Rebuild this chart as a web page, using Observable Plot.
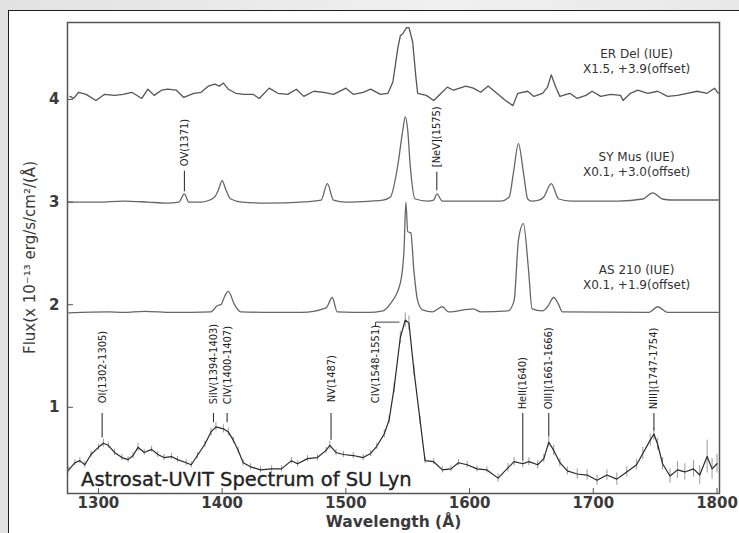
<!DOCTYPE html>
<html><head><meta charset="utf-8">
<script src="https://cdn.jsdelivr.net/npm/d3@7"></script>
<script src="https://cdn.jsdelivr.net/npm/@observablehq/plot@0.6"></script>
<style>
html,body{margin:0;padding:0;width:739px;height:533px;overflow:hidden;background:linear-gradient(90deg,#e2e2e2,#f0f0f0 60%,#e8e8e8);}
#panel{position:absolute;left:8px;top:10px;width:800px;height:600px;background:#fff;border-left:1.6px solid #1e1e1e;border-top:1.6px solid #1e1e1e;}
#chart{position:absolute;left:0;top:0;}
</style></head><body><div id="panel"></div><div id="chart"></div>
<script>
const xTicks = [1300, 1400, 1500, 1600, 1700, 1800];
const yTicks = [1, 2, 3, 4];

// ER Del (IUE) x1.5 +3.9
const erDelW = [1277,1280,1284,1290,1298,1305,1313,1320,1327,1335,1340,1345,1351,1356,1363,1369,1377,1383,1389,1394,1398,1401,1405,1411,1418,1425,1430,1438,1445,1453,1460,1466,1474,1482,1490,1500,1506,1514,1520,1528,1534,1538,1542,1544,1546,1549,1551,1554,1556.5,1558,1565,1571,1577,1582,1587,1597,1603,1609,1615,1622,1629,1635,1639,1647,1652,1659,1663,1666,1670,1673,1681,1687,1694,1699,1706,1714,1722,1724,1730,1736,1744,1752,1760,1768,1776,1784,1792,1798,1801];
const erDelF = [4.03,4.01,4.07,4.05,3.99,4.05,4.04,4.05,4.07,4.01,4.10,4.04,4.09,4.10,4.09,4.02,4.06,4.07,4.13,4.15,4.13,4.16,4.10,4.06,4.05,4.05,4.01,4.11,4.06,4.05,4.10,4.03,4.08,4.07,4.05,4.11,4.05,4.07,4.10,4.05,4.06,4.17,4.50,4.62,4.64,4.70,4.70,4.56,4.23,4.06,4.04,3.99,4.06,4.12,4.09,4.13,4.11,4.07,4.13,4.06,3.99,3.94,4.06,4.08,4.03,4.06,4.12,4.24,4.11,4.03,4.06,4.01,4.04,4.08,4.03,4.05,4.04,3.99,4.06,4.09,4.06,4.08,4.03,4.04,4.06,4.08,4.06,4.11,4.06];

// SY Mus (IUE) x0.1 +3.0
const syMusW = [1276,1300,1320,1340,1355,1365,1369.5,1373,1383,1390,1394,1397,1400,1403,1407,1416,1437,1464,1480,1485,1490,1500,1520,1530,1536,1542,1546,1548,1550,1552,1556,1566,1571,1573.5,1578,1600,1625,1632,1635.5,1639.5,1643.5,1647,1650,1656,1660,1666,1672,1682,1720,1740,1748,1756,1763,1801];
const syMusF = [3.00,3.00,3.01,3.00,2.99,3.00,3.08,3.00,3.00,3.02,3.05,3.12,3.21,3.12,3.03,3.00,2.99,3.00,3.02,3.18,3.02,3.00,3.01,3.02,3.05,3.36,3.70,3.83,3.70,3.36,3.03,3.01,3.02,3.08,3.01,3.01,3.01,3.05,3.29,3.57,3.29,3.03,3.01,3.02,3.05,3.18,3.03,3.01,3.01,3.03,3.09,3.03,3.02,3.02];

// AS 210 (IUE) x0.1 +1.9
const as210W = [1276,1308,1320,1337,1360,1391,1396,1399,1402,1405,1410,1415,1440,1464,1484,1489,1493,1518,1530,1536,1544,1547,1548.5,1550,1552.5,1555,1558,1562,1570,1578,1583,1603,1609,1631,1636,1639.5,1643.5,1647.5,1650.5,1659,1663,1668,1672,1675,1745,1752,1760,1801];
const as210F = [1.92,1.93,1.925,1.935,1.925,1.93,1.99,2.00,2.08,2.13,2.00,1.93,1.925,1.925,1.97,2.07,1.93,1.925,1.94,2.01,2.21,2.53,3.00,2.71,2.70,2.33,2.04,1.95,1.93,1.98,1.93,1.96,1.93,1.94,2.04,2.63,2.79,2.36,1.96,1.94,1.98,2.07,2.00,1.93,1.925,1.98,1.925,1.925];

// Astrosat-UVIT SU Lyn
const suLynW = [1276,1281,1285,1289,1294,1300,1304,1308,1313,1319,1324,1328,1332,1337,1343,1348,1353,1359,1364,1371,1375,1380,1386,1391,1395,1401,1405,1409,1413,1417,1423,1431,1440,1448,1456,1461,1469,1477,1484,1487,1492,1498,1506,1514,1520,1525,1531,1535,1539,1544,1548,1551,1555,1560,1564,1571,1578,1585,1591,1598,1606,1614,1623,1631,1636,1643,1648,1655,1660,1664,1668,1673,1679,1687,1695,1703,1711,1719,1727,1735,1740,1746,1749,1752,1756,1762,1768,1774,1781,1786,1792,1796,1800];
const suLynF = [0.39,0.46,0.48,0.44,0.54,0.61,0.65,0.63,0.56,0.51,0.49,0.53,0.61,0.56,0.59,0.54,0.51,0.52,0.49,0.46,0.44,0.53,0.64,0.76,0.81,0.79,0.76,0.68,0.58,0.46,0.42,0.39,0.40,0.40,0.48,0.45,0.50,0.51,0.58,0.63,0.56,0.54,0.53,0.51,0.55,0.62,0.74,0.88,1.19,1.68,1.85,1.82,1.36,0.87,0.48,0.47,0.39,0.40,0.46,0.44,0.40,0.39,0.31,0.41,0.47,0.45,0.47,0.44,0.50,0.66,0.58,0.46,0.38,0.35,0.34,0.29,0.34,0.30,0.37,0.44,0.55,0.68,0.74,0.64,0.45,0.33,0.39,0.37,0.40,0.34,0.52,0.40,0.45];
const suLynErr = [0.03,0.03,0.03,0.03,0.03,0.03,0.04,0.03,0.03,0.03,0.03,0.03,0.04,0.03,0.03,0.03,0.03,0.03,0.03,0.03,0.03,0.03,0.03,0.04,0.04,0.04,0.04,0.03,0.03,0.03,0.03,0.03,0.03,0.03,0.03,0.03,0.03,0.03,0.03,0.04,0.03,0.03,0.03,0.03,0.03,0.03,0.04,0.04,0.05,0.06,0.07,0.07,0.05,0.04,0.03,0.03,0.03,0.03,0.03,0.03,0.03,0.03,0.04,0.04,0.04,0.04,0.04,0.04,0.04,0.05,0.05,0.04,0.04,0.05,0.05,0.05,0.05,0.06,0.05,0.05,0.06,0.06,0.06,0.06,0.06,0.07,0.08,0.08,0.08,0.09,0.16,0.10,0.09];

// Line identifications
const idNames = ["OI(1302-1305)","SiIV(1394-1403)","CIV(1400-1407)","NV(1487)","CIV(1548-1551)","HeII(1640)","OIII](1661-1666)","NIII](1747-1754)","OV(1371)","[NeV](1575)"];
const idWave = [1303,1393,1404,1488,1524,1643,1664,1749,1369.5,1573.5];
const idTextF = [1.04,1.03,1.03,1.05,1.04,0.98,0.98,0.98,3.35,3.34];
const idTickTop = [0.94,0.94,0.94,0.94,null,0.94,0.94,0.94,3.30,3.29];
const idTickBottom = [0.70,0.85,0.85,0.68,null,0.48,0.71,0.77,3.10,3.11];
const bracketW = [1524,1524,1543];
const bracketF = [1.79,1.83,1.83];

const seriesLabels = ["ER Del (IUE)\nX1.5, +3.9(offset)","SY Mus (IUE)\nX0.1, +3.0(offset)","AS 210 (IUE)\nX0.1, +1.9(offset)"];
const seriesLabelW = [1735,1735,1735];
const seriesLabelF = [4.375,3.372,2.276];
const suLynTitle = "Astrosat-UVIT Spectrum of SU Lyn";
const xLabel = "Wavelength (Å)";
const yLabel = "Flux(x 10⁻¹³ erg/s/cm²/(Å)";

const rows = (w, f) => w.map((x, i) => ({w: x, f: f[i]}));
const suRows = suLynW.map((x, i) => ({w: x, f: suLynF[i], e: suLynErr[i]}));
const ids = idNames.map((n, i) => ({n, w: idWave[i], t: idTextF[i], a: idTickTop[i], b: idTickBottom[i]}));
const idTicks = ids.filter(d => d.a != null);
const labels = seriesLabels.map((s, i) => ({s, w: seriesLabelW[i], f: seriesLabelF[i]}));

const condensed = "'DejaVu Sans Condensed','Liberation Sans Narrow',sans-serif";
const xDomain = [1275, 1802], yDomain = [0.16, 4.75];

const chart = Plot.plot({
  width: 739, height: 533,
  marginLeft: 67, marginRight: 20, marginTop: 22, marginBottom: 40,
  x: {domain: xDomain},
  y: {domain: yDomain},
  style: {fontFamily: "'DejaVu Sans',sans-serif", background: "transparent", color: "#333"},
  marks: [
    Plot.ruleX(suRows, {x: "w", y1: d => d.f - d.e, y2: d => d.f + d.e, stroke: "#9a9a9a", strokeWidth: 1}),
    Plot.line(rows(erDelW, erDelF), {x: "w", y: "f", stroke: "#555", strokeWidth: 1.3}),
    Plot.line(rows(syMusW, syMusF), {x: "w", y: "f", stroke: "#666", strokeWidth: 1.3, curve: "monotone-x"}),
    Plot.line(rows(as210W, as210F), {x: "w", y: "f", stroke: "#666", strokeWidth: 1.3, curve: "monotone-x"}),
    Plot.line(suRows, {x: "w", y: "f", stroke: "#2a2a2a", strokeWidth: 1.2}),
    Plot.ruleX(idTicks, {x: "w", y1: "a", y2: "b", stroke: "#333", strokeWidth: 1.1}),
    Plot.line(rows(bracketW, bracketF), {x: "w", y: "f", stroke: "#444", strokeWidth: 1}),
    Plot.text(ids, {x: "w", y: "t", text: "n", rotate: -90, textAnchor: "start", lineAnchor: "middle", fontSize: 11, fontFamily: condensed, fill: "#222"}),
    Plot.text(labels, {x: "w", y: "f", text: "s", textAnchor: "middle", lineAnchor: "middle", lineHeight: 1.25, fontSize: 12, fill: "#333", fontWeight: 500}),
    Plot.text([suLynTitle], {x: 1286, y: 0.29, textAnchor: "start", fontSize: 19.5, fill: "#222", stroke: "#222", strokeWidth: 0.35}),
    Plot.frame({stroke: "#555", strokeWidth: 1.5}),
    Plot.axisX({ticks: xTicks, tickFormat: d3.format("d"), tickSize: -5, tickPadding: 9, label: null, fontSize: 15, fontWeight: "bold", fill: "#3a3a3a", stroke: "#555"}),
    Plot.axisY({ticks: yTicks, tickFormat: d3.format("d"), tickSize: -6, tickPadding: 14, label: null, fontSize: 15, fontWeight: "bold", fill: "#3a3a3a", stroke: "#555"}),
    Plot.text([xLabel], {frameAnchor: "bottom", dy: 33, fontSize: 15.5, fontWeight: "bold", fill: "#3a3a3a"}),
    Plot.text([yLabel], {x: () => xDomain[0], y: () => 2.46, rotate: -90, dx: -37, textAnchor: "middle", fontSize: 15, fill: "#3a3a3a"})
  ]
});
document.getElementById("chart").appendChild(chart);
</script></body></html>
